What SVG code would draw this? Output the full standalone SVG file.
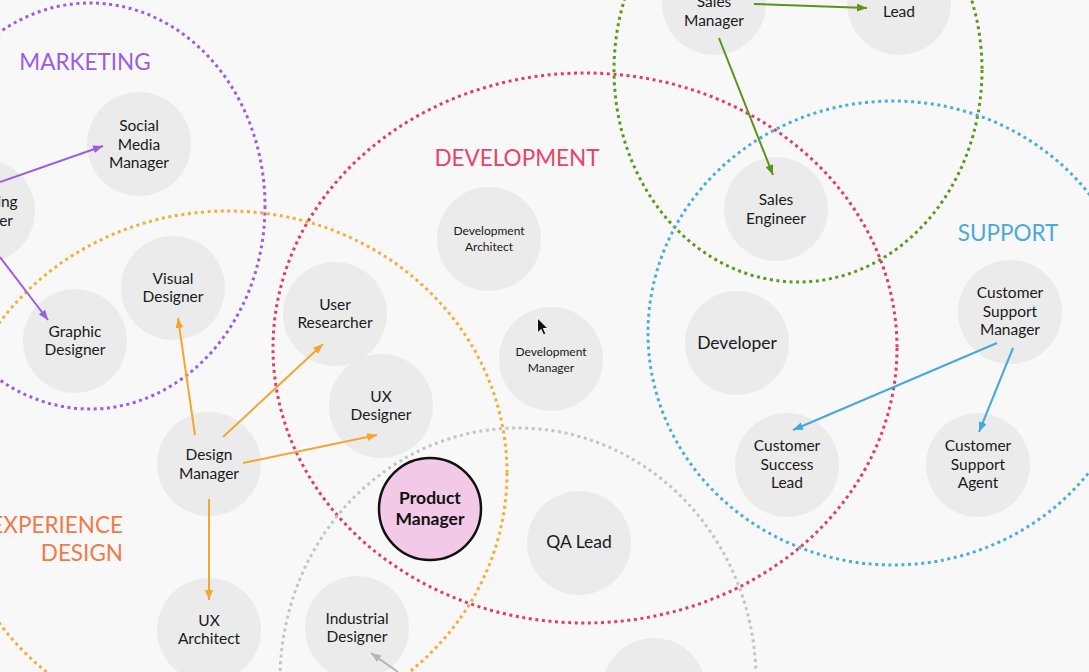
<svg xmlns="http://www.w3.org/2000/svg" width="1089" height="672" viewBox="0 0 1089 672">
<defs>
<style>
.grp{fill:none;stroke-width:3;stroke-dasharray:3 3.6}
.node circle{fill:#ebebeb}
.node text{font-family:Lato,"Liberation Sans",sans-serif;font-size:15.5px;fill:#1a1a1a;text-anchor:middle}
.node text.sm{font-size:12px}
.node text.lg{font-size:17.5px}
.node text.pm{font-weight:bold;font-size:17.5px;fill:#111}
.lbl{font-family:Lato,"Liberation Sans",sans-serif;font-size:22.5px}
.cn line{stroke-width:2}
</style>
<marker id="aP" markerUnits="userSpaceOnUse" markerWidth="10" markerHeight="8" refX="10" refY="4" orient="auto"><path d="M0,0 L10,4 L0,8 z" fill="#9b5de5"/></marker>
<marker id="aO" markerUnits="userSpaceOnUse" markerWidth="10" markerHeight="8" refX="10" refY="4" orient="auto"><path d="M0,0 L10,4 L0,8 z" fill="#f3a632"/></marker>
<marker id="aG" markerUnits="userSpaceOnUse" markerWidth="10" markerHeight="8" refX="10" refY="4" orient="auto"><path d="M0,0 L10,4 L0,8 z" fill="#5a9418"/></marker>
<marker id="aB" markerUnits="userSpaceOnUse" markerWidth="10" markerHeight="8" refX="10" refY="4" orient="auto"><path d="M0,0 L10,4 L0,8 z" fill="#45a9d9"/></marker>
<marker id="aY" markerUnits="userSpaceOnUse" markerWidth="10" markerHeight="8" refX="10" refY="4" orient="auto"><path d="M0,0 L10,4 L0,8 z" fill="#b4b4b4"/></marker>
</defs>
<rect width="1089" height="672" fill="#f8f8f8"/>

<g id="groups">
<ellipse class="grp" cx="90" cy="206" rx="175" ry="203" stroke="#9b5de5"/>
<ellipse class="grp" cx="228" cy="473" rx="279" ry="262" stroke="#f5ae3a"/>
<ellipse class="grp" cx="585" cy="348" rx="312" ry="275" stroke="#e63c62"/>
<ellipse class="grp" cx="798" cy="70" rx="184" ry="212" stroke="#5b9a1e"/>
<ellipse class="grp" cx="893" cy="333" rx="245" ry="232" stroke="#4aaedc"/>
<ellipse class="grp" cx="518" cy="680" rx="238" ry="252" stroke="#c4c4c4"/>
</g>

<g id="labels">
<text class="lbl" x="85" y="70" text-anchor="middle" fill="#9b5de5">MARKETING</text>
<text class="lbl" x="517" y="166" text-anchor="middle" fill="#e8436a">DEVELOPMENT</text>
<text class="lbl" x="1008" y="241" text-anchor="middle" fill="#4da9db">SUPPORT</text>
<text class="lbl" x="123" y="533" text-anchor="end" fill="#f07a4a">EXPERIENCE</text>
<text class="lbl" x="123" y="561" text-anchor="end" fill="#f07a4a">DESIGN</text>
</g>

<g id="n-marketing-manager" class="node"><circle cx="-17" cy="211" r="52"/><text x="-17" y="207">Marketing</text><text x="-17" y="226">Manager</text></g>
<g id="n-social-media-manager" class="node"><circle cx="139" cy="144" r="52"/><text x="139" y="131">Social</text><text x="139" y="150">Media</text><text x="139" y="168">Manager</text></g>
<g id="n-graphic-designer" class="node"><circle cx="75" cy="341" r="52"/><text x="75" y="337">Graphic</text><text x="75" y="355">Designer</text></g>
<g id="n-visual-designer" class="node"><circle cx="173" cy="288" r="52"/><text x="173" y="284">Visual</text><text x="173" y="302">Designer</text></g>
<g id="n-user-researcher" class="node"><circle cx="335" cy="314" r="52"/><text x="335" y="310">User</text><text x="335" y="328">Researcher</text></g>
<g id="n-ux-designer" class="node"><circle cx="381" cy="406" r="52"/><text x="381" y="402">UX</text><text x="381" y="420">Designer</text></g>
<g id="n-design-manager" class="node"><circle cx="209" cy="464" r="52"/><text x="209" y="460">Design</text><text x="209" y="479">Manager</text></g>
<g id="n-ux-architect" class="node"><circle cx="209" cy="630" r="52"/><text x="209" y="626">UX</text><text x="209" y="644">Architect</text></g>
<g id="n-product-manager" class="node"><circle cx="430" cy="509" r="51" style="fill:#f3c9e8;stroke:#111;stroke-width:2.5"/><text class="pm" x="430" y="504">Product</text><text class="pm" x="430" y="525">Manager</text></g>
<g id="n-industrial-designer" class="node"><circle cx="357" cy="628" r="52"/><text x="357" y="624">Industrial</text><text x="357" y="642">Designer</text></g>
<g id="n-qa-lead" class="node"><circle cx="579" cy="543" r="52"/><text class="lg" x="579" y="548">QA Lead</text></g>
<g id="n-bottom" class="node"><circle cx="654" cy="690" r="52"/></g>
<g id="n-development-architect" class="node"><circle cx="489" cy="239" r="52"/><text class="sm" x="489" y="235">Development</text><text class="sm" x="489" y="251">Architect</text></g>
<g id="n-development-manager" class="node"><circle cx="551" cy="359" r="52"/><text class="sm" x="551" y="356">Development</text><text class="sm" x="551" y="372">Manager</text></g>
<g id="n-developer" class="node"><circle cx="737" cy="343" r="52"/><text class="lg" x="737" y="349">Developer</text></g>
<g id="n-sales-manager" class="node"><circle cx="714" cy="3" r="52"/><text x="714" y="7">Sales</text><text x="714" y="26">Manager</text></g>
<g id="n-lead" class="node"><circle cx="899" cy="3" r="52"/><text x="899" y="17">Lead</text></g>
<g id="n-sales-engineer" class="node"><circle cx="776" cy="209" r="52"/><text x="776" y="205">Sales</text><text x="776" y="224">Engineer</text></g>
<g id="n-customer-support-manager" class="node"><circle cx="1010" cy="312" r="52"/><text x="1010" y="298">Customer</text><text x="1010" y="317">Support</text><text x="1010" y="335">Manager</text></g>
<g id="n-customer-success-lead" class="node"><circle cx="787" cy="465" r="52"/><text x="787" y="451">Customer</text><text x="787" y="470">Success</text><text x="787" y="488">Lead</text></g>
<g id="n-customer-support-agent" class="node"><circle cx="978" cy="465" r="52"/><text x="978" y="451">Customer</text><text x="978" y="470">Support</text><text x="978" y="488">Agent</text></g>

<g id="connectors" class="cn">
<line x1="0" y1="182" x2="103" y2="146" stroke="#9b5de5" marker-end="url(#aP)"/>
<line x1="0" y1="257" x2="48" y2="320" stroke="#9b5de5" marker-end="url(#aP)"/>
<line x1="195" y1="435" x2="178" y2="318" stroke="#f3a632" marker-end="url(#aO)"/>
<line x1="223" y1="437" x2="323" y2="344" stroke="#f3a632" marker-end="url(#aO)"/>
<line x1="243" y1="463" x2="377" y2="435" stroke="#f3a632" marker-end="url(#aO)"/>
<line x1="209" y1="499" x2="209" y2="600" stroke="#f3a632" marker-end="url(#aO)"/>
<line x1="754" y1="4" x2="867" y2="8" stroke="#5a9418" marker-end="url(#aG)"/>
<line x1="719" y1="38" x2="773" y2="175" stroke="#5a9418" marker-end="url(#aG)"/>
<line x1="997" y1="343" x2="793" y2="430" stroke="#45a9d9" marker-end="url(#aB)"/>
<line x1="1013" y1="348" x2="979" y2="432" stroke="#45a9d9" marker-end="url(#aB)"/>
<line x1="398" y1="672" x2="371" y2="653" stroke="#b4b4b4" marker-end="url(#aY)"/>
</g>

<path id="cursor" d="M537.5,318 L537.5,333 L541,329.5 L543.5,335 L546,334 L543.5,328.5 L548,328.5 Z" fill="#111" stroke="#fff" stroke-width="1"/>
</svg>
